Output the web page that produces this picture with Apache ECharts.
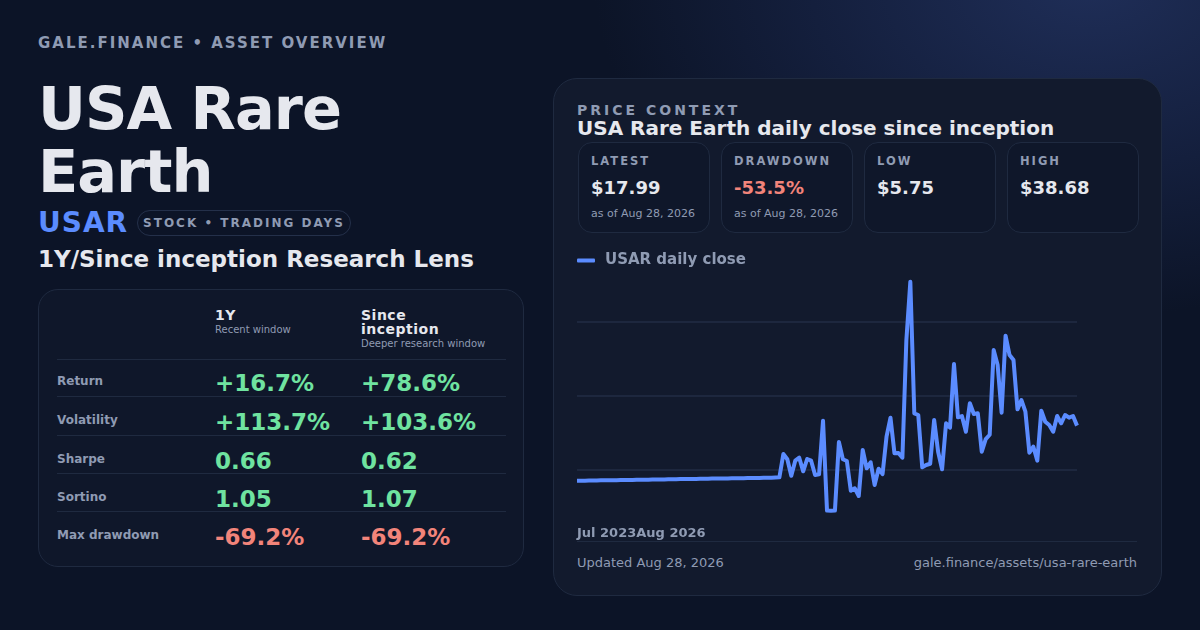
<!DOCTYPE html>
<html>
<head>
<meta charset="utf-8">
<script src="https://cdn.jsdelivr.net/npm/echarts@6/dist/echarts.min.js"></script>
<style>
  * { margin: 0; padding: 0; box-sizing: border-box; }
  body {
    width: 1200px; height: 630px; overflow: hidden;
    font-family: "DejaVu Sans", sans-serif;
    background: radial-gradient(ellipse 620px 420px at 1090px -20px, #1f2e58 0%, #141f3d 45%, #0c1427 80%), #0c1427;
    color: #e5e7eb;
    position: relative;
  }
  .abs { position: absolute; white-space: nowrap; }
  .kicker { left: 38px; top: 34px; font-size: 15px; line-height: 18px; font-weight: bold; letter-spacing: 2px; color: #8f9bb3; }
  .title { left: 38px; top: 77px; font-size: 59px; line-height: 63px; font-weight: bold; letter-spacing: -1px; color: #e6e8ee; }
  .ticker { left: 38px; top: 207px; font-size: 28px; line-height: 32px; font-weight: bold; color: #5b8cff; letter-spacing: 1px; }
  .badge { left: 137px; top: 210px; width: 214px; height: 26px; border: 1px solid #24304a; border-radius: 13px;
           font-size: 12px; line-height: 24px; font-weight: bold; letter-spacing: 2px; color: #8f9bb3; text-align: center; }
  .lens { left: 38px; top: 245px; font-size: 23px; line-height: 28px; font-weight: bold; color: #e6e8ee; }
  .tcard { left: 38px; top: 289px; width: 486px; height: 278px; border: 1px solid #1f2a40; border-radius: 20px; background: #0f172a; }
  .th { font-size: 14px; line-height: 14px; font-weight: bold; color: #e6e8ee; letter-spacing: 0.5px; }
  .ts { font-size: 10px; line-height: 14px; color: #8f9bb3; }
  .rule { height: 1px; background: #1f2a40; }
  .rl { font-size: 12px; line-height: 16px; font-weight: bold; color: #8f9bb3; }
  .rv { font-size: 23px; line-height: 28px; font-weight: bold; }
  .pos { color: #6fe3a0; }
  .neg { color: #f2847a; }
  .pcard { left: 553px; top: 78px; width: 609px; height: 518px; border: 1px solid #1f2a40; border-radius: 24px; background: #121a2d; }
  .pk { left: 577px; top: 101px; font-size: 14px; line-height: 18px; font-weight: bold; letter-spacing: 3px; color: #8f9bb3; }
  .pt { left: 577px; top: 117px; font-size: 20px; line-height: 22px; font-weight: bold; color: #e6e8ee; }
  .kpi { top: 142px; width: 132px; height: 91px; border: 1px solid #1f2a40; border-radius: 14px; background: #0f172a; }
  .kl { position: absolute; left: 12px; top: 11px; font-size: 11.5px; line-height: 14px; font-weight: bold; letter-spacing: 2px; color: #8f9bb3; }
  .kv { position: absolute; left: 12px; top: 34px; font-size: 18px; line-height: 22px; font-weight: bold; color: #e6e8ee; }
  .ks { position: absolute; left: 12px; top: 64px; font-size: 11px; line-height: 14px; color: #8f9bb3; }
  #chart { position: absolute; left: 577px; top: 240px; width: 560px; height: 308px; }
  .xl { left: 577px; top: 525px; font-size: 13px; line-height: 16px; font-weight: bold; color: #8f9bb3; }
  .foot { left: 577px; top: 541px; width: 560px; height: 1px; background: #1f2a40; }
  .fl { left: 577px; top: 555px; font-size: 13px; line-height: 16px; color: #8f9bb3; }
  .fr { right: 63px; top: 555px; font-size: 13px; line-height: 16px; color: #8f9bb3; }
</style>
</head>
<body>
<div class="abs kicker">GALE.FINANCE • ASSET OVERVIEW</div>
<div class="abs title">USA Rare<br>Earth</div>
<div class="abs ticker">USAR</div>
<div class="abs badge">STOCK • TRADING DAYS</div>
<div class="abs lens">1Y/Since inception Research Lens</div>

<div class="abs tcard"></div>
<div id="table"></div>

<div class="abs pcard"></div>
<div class="abs pk">PRICE CONTEXT</div>
<div class="abs pt">USA Rare Earth daily close since inception</div>
<div id="kpis"></div>
<div id="chart"></div>
<div class="abs xl" id="xlabels"></div>
<div class="abs foot"></div>
<div class="abs fl">Updated Aug 28, 2026</div>
<div class="abs fr">gale.finance/assets/usa-rare-earth</div>

<script>
// 日线收盘价（从图上读取，前段为平稳区间）
const closes = [
  10.07, 10.07, 10.08, 10.09, 10.10, 10.11, 10.12, 10.13, 10.14, 10.14,
  10.15, 10.16, 10.17, 10.18, 10.19, 10.20, 10.21, 10.22, 10.22, 10.23,
  10.24, 10.25, 10.26, 10.27, 10.28, 10.29, 10.30, 10.30, 10.31, 10.32,
  10.33, 10.34, 10.35, 10.36, 10.37, 10.38, 10.38, 10.39, 10.40, 10.41,
  10.42, 10.43, 10.44, 10.45, 10.46, 10.46, 10.47, 10.48, 10.50, 10.51,
  10.53, 10.55,
  13.91, 13.15, 10.79, 12.95, 13.38, 11.42, 13.19, 12.95, 10.89, 10.99,
  18.70, 5.78, 5.75, 5.77, 15.63, 13.15, 12.90, 8.63, 8.98, 7.87,
  14.48, 11.85, 12.72, 9.45, 11.80, 11.03, 16.40, 19.13, 14.01, 14.05,
  13.38, 30.30, 38.68, 19.76, 19.52, 12.00, 12.33, 12.51, 18.80, 14.24,
  11.71, 18.32, 17.69, 26.85, 19.18, 19.37, 17.11, 21.20, 19.66, 19.76,
  14.24, 16.06, 16.68, 28.86, 26.70, 19.85, 30.92, 28.14, 27.42, 20.33,
  21.67, 19.99, 14.10, 14.96, 12.95, 20.13, 18.55, 18.08, 17.11, 19.37,
  18.32, 19.52, 19.13, 19.37, 17.99
];
const xTickLabels = ['Jul 2023', 'Aug 2026'];
const seriesName = 'USAR daily close';

// y轴范围（网格线不在整数位置）
const yMin = 0.97;
const yMax = 43.53;
const yStep = 10.64;

// 指标卡
const kpiLabels = ['LATEST', 'DRAWDOWN', 'LOW', 'HIGH'];
const kpiValues = ['$17.99', '-53.5%', '$5.75', '$38.68'];
const kpiNotes = ['as of Aug 28, 2026', 'as of Aug 28, 2026', '', ''];

// 表格
const windowNames = ['1Y', 'Since<br>inception'];
const windowNotes = ['Recent window', 'Deeper research window'];
const metricNames = ['Return', 'Volatility', 'Sharpe', 'Sortino', 'Max drawdown'];
const oneYear = ['+16.7%', '+113.7%', '0.66', '1.05', '-69.2%'];
const sinceInception = ['+78.6%', '+103.6%', '0.62', '1.07', '-69.2%'];

// 画表格
(function buildTable() {
  let html = '';
  html += '<div class="abs th" style="left:215px;top:308px">' + windowNames[0] + '</div>';
  html += '<div class="abs ts" style="left:215px;top:323px">' + windowNotes[0] + '</div>';
  html += '<div class="abs th" style="left:361px;top:308px;line-height:14px">' + windowNames[1] + '</div>';
  html += '<div class="abs ts" style="left:361px;top:337px">' + windowNotes[1] + '</div>';
  const rules = [359, 396, 435, 473, 511];
  // 每行文字的中线
  const labelMid = [381, 420, 459, 497, 535];
  const valueMid = [383, 422, 461, 499, 537];
  rules.forEach((y) => {
    html += '<div class="abs rule" style="left:57px;top:' + y + 'px;width:449px"></div>';
  });
  metricNames.forEach((name, i) => {
    let cls = oneYear[i].charAt(0) === '-' ? 'neg' : 'pos';
    let cls2 = sinceInception[i].charAt(0) === '-' ? 'neg' : 'pos';
    html += '<div class="abs rl" style="left:57px;top:' + (labelMid[i] - 8) + 'px">' + name + '</div>';
    html += '<div class="abs rv ' + cls + '" style="left:215px;top:' + (valueMid[i] - 14) + 'px">' + oneYear[i] + '</div>';
    html += '<div class="abs rv ' + cls2 + '" style="left:361px;top:' + (valueMid[i] - 14) + 'px">' + sinceInception[i] + '</div>';
  });
  document.getElementById('table').innerHTML = html;
})();

// 画指标卡
(function buildKpis() {
  let html = '';
  kpiLabels.forEach((label, i) => {
    let left = 578 + i * 143;
    let color = kpiValues[i].charAt(0) === '-' ? 'color:#f2847a' : '';
    html += '<div class="abs kpi" style="left:' + left + 'px">'
      + '<div class="kl">' + label + '</div>'
      + '<div class="kv" style="' + color + '">' + kpiValues[i] + '</div>'
      + '<div class="ks">' + kpiNotes[i] + '</div>'
      + '</div>';
  });
  document.getElementById('kpis').innerHTML = html;
  document.getElementById('xlabels').textContent = xTickLabels.join('');
})();

// 折线图
let myChart = echarts.init(document.getElementById('chart'), null, {renderer: 'canvas'});
let option = {
  animation: false,
  legend: {
    data: [seriesName],
    left: 0,
    top: 8,
    padding: [5, 5, 5, 0],
    icon: 'roundRect',
    itemWidth: 18,
    itemHeight: 4,
    itemGap: 10,
    textStyle: {color: '#8f9bb3', fontSize: 15, fontWeight: 'bold', fontFamily: 'DejaVu Sans', padding: [0, 0, 0, 5]}
  },
  grid: {left: 0, right: 60, top: 8, bottom: 4, containLabel: false},
  xAxis: {
    type: 'category',
    boundaryGap: false,
    data: closes.map((v, i) => i),
    axisLine: {show: false},
    axisTick: {show: false},
    axisLabel: {show: false},
    splitLine: {show: false}
  },
  yAxis: {
    type: 'value',
    min: yMin,
    max: yMax,
    interval: yStep,
    axisLine: {show: false},
    axisTick: {show: false},
    axisLabel: {show: false},
    splitLine: {show: true, showMinLine: false, showMaxLine: false, lineStyle: {color: '#222d44', width: 1.5}}
  },
  series: [
    {
      name: seriesName,
      type: 'line',
      data: closes,
      showSymbol: false,
      symbol: 'none',
      lineStyle: {color: '#5b8cff', width: 4, join: 'round'},
      itemStyle: {color: '#5b8cff'}
    }
  ]
};
myChart.setOption(option);
</script>
</body>
</html>
